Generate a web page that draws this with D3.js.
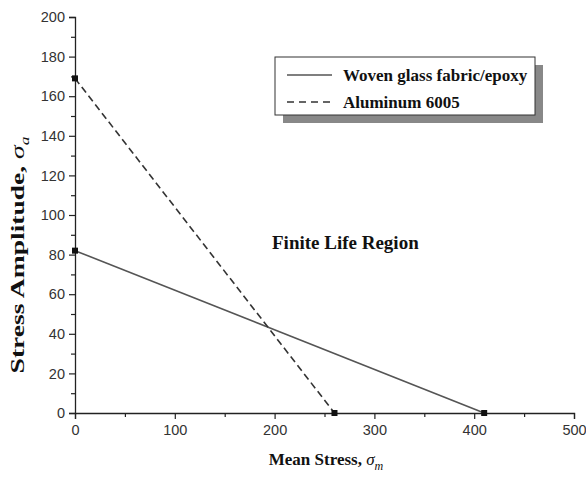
<!DOCTYPE html>
<html><head><meta charset="utf-8">
<script src="https://cdn.jsdelivr.net/npm/d3@7"></script>
<style>body{margin:0;background:#fff}</style>
</head><body>
<svg id="c" width="586" height="479"></svg>
<script>
const seriesNames = ["Woven glass fabric/epoxy", "Aluminum 6005"];
const wovenX = [0, 410];
const wovenY = [82, 0];
const aluX = [0, 260];
const aluY = [169, 0];
const xTicks = [0, 100, 200, 300, 400, 500];
const yTicks = [0, 20, 40, 60, 80, 100, 120, 140, 160, 180, 200];

const svg = d3.select("#c");
const x = d3.scaleLinear().domain([0, 500]).range([75, 574]);
const y = d3.scaleLinear().domain([0, 200]).range([413, 17]);

// axes
const xAxis = d3.axisBottom(x).tickValues(xTicks).tickSize(6).tickPadding(3);
const yAxis = d3.axisLeft(y).tickValues(yTicks).tickSize(6).tickPadding(4);
const gx = svg.append("g").attr("transform", "translate(0,413)").call(xAxis);
const gy = svg.append("g").attr("transform", "translate(75,0)").call(yAxis);
// minor ticks
svg.append("g").attr("transform", "translate(0,413)")
  .call(d3.axisBottom(x).tickValues(d3.range(50, 500, 100)).tickSize(4).tickFormat(""))
  .select(".domain").remove();
svg.append("g").attr("transform", "translate(75,0)")
  .call(d3.axisLeft(y).tickValues(d3.range(10, 200, 20)).tickSize(4).tickFormat(""))
  .select(".domain").remove();
svg.selectAll(".domain").attr("stroke", "#222").attr("stroke-width", 1.3);
svg.selectAll(".tick line").attr("stroke", "#222").attr("stroke-width", 1.2);
svg.selectAll(".tick text").attr("font-family", "Liberation Sans, Arial, sans-serif")
  .attr("font-size", 14.5).attr("fill", "#333");
gx.selectAll(".tick text").attr("dy", "0.9em");

// lines
const line = d3.line().x(d => x(d[0])).y(d => y(d[1]));
const woven = wovenX.map((v, i) => [v, wovenY[i]]);
const alu = aluX.map((v, i) => [v, aluY[i]]);
svg.append("path").datum(woven).attr("d", line).attr("fill", "none")
  .attr("stroke", "#555").attr("stroke-width", 1.6);
svg.append("path").datum(alu).attr("d", line).attr("fill", "none")
  .attr("stroke", "#333").attr("stroke-width", 1.6).attr("stroke-dasharray", "7,4");
// markers
[woven, alu].forEach(s => {
  svg.selectAll(null).data(s).enter().append("rect")
    .attr("x", d => x(d[0]) - 3).attr("y", d => y(d[1]) - 3)
    .attr("width", 6).attr("height", 6).attr("fill", "#111");
});

// legend
const lg = svg.append("g");
lg.append("rect").attr("x", 283).attr("y", 65).attr("width", 260).attr("height", 58).attr("fill", "#888");
lg.append("rect").attr("x", 275).attr("y", 57).attr("width", 260).attr("height", 58)
  .attr("fill", "#fff").attr("stroke", "#333").attr("stroke-width", 1);
lg.append("line").attr("x1", 287).attr("x2", 332).attr("y1", 75).attr("y2", 75)
  .attr("stroke", "#555").attr("stroke-width", 1.6);
lg.append("line").attr("x1", 287).attr("x2", 332).attr("y1", 102).attr("y2", 102)
  .attr("stroke", "#333").attr("stroke-width", 1.6).attr("stroke-dasharray", "7,5");
lg.selectAll("text.lt").data(seriesNames).enter().append("text")
  .attr("x", 343).attr("y", (d, i) => 81 + i * 27)
  .attr("font-family", "Liberation Serif, Times New Roman, serif").attr("font-weight", "bold")
  .attr("font-size", 17).attr("fill", "#111").text(d => d);

// annotation
svg.append("text").attr("x", 272).attr("y", 249)
  .attr("font-family", "Liberation Serif, Times New Roman, serif").attr("font-weight", "bold")
  .attr("font-size", 19).attr("fill", "#111").text("Finite Life Region");

// axis titles
const xt = svg.append("text").attr("x", 326).attr("y", 465).attr("text-anchor", "middle")
  .attr("font-family", "Liberation Serif, Times New Roman, serif").attr("font-size", 17)
  .attr("fill", "#111");
xt.append("tspan").attr("font-weight", "bold").text("Mean Stress,  ");
xt.append("tspan").attr("font-style", "italic").text("σ");
xt.append("tspan").attr("font-style", "italic").attr("font-size", 12).attr("dy", 5).text("m");

const yt = svg.append("text").attr("transform", "translate(24,255) rotate(-90) scale(1.45,1)").attr("text-anchor", "middle")
  .attr("font-family", "Liberation Serif, Times New Roman, serif").attr("font-size", 19)
  .attr("fill", "#111");
yt.append("tspan").attr("font-weight", "bold").text("Stress Amplitude,  ");
yt.append("tspan").attr("font-style", "italic").text("σ");
yt.append("tspan").attr("font-style", "italic").attr("font-size", 12).attr("dy", 5).text("a");
</script>
</body></html>
